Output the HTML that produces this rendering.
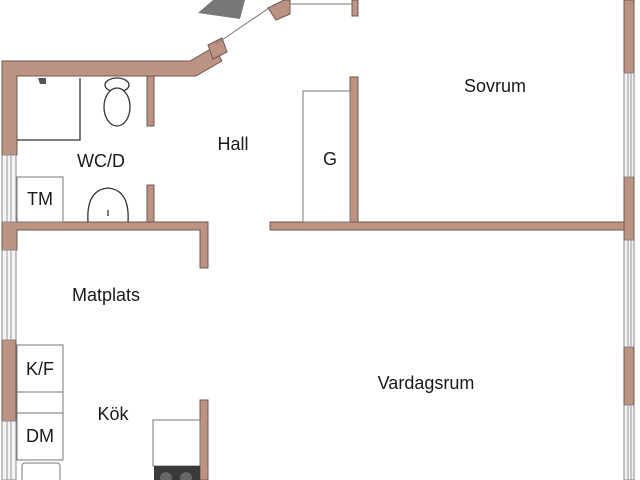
<!DOCTYPE html>
<html><head><style>html,body{margin:0;padding:0;background:#fff;}svg{display:block}</style></head>
<body>
<svg width="640" height="480" viewBox="0 0 640 480" xmlns="http://www.w3.org/2000/svg" font-family="Liberation Sans, sans-serif">
<defs>
<pattern id="win" width="12" height="20" patternUnits="userSpaceOnUse">
<rect width="12" height="20" fill="#f4f4f4"/>
</pattern>
</defs>
<g fill="#bc9282" stroke="#6e5850" stroke-width="1">
<!-- top wall with diagonal -->
<polygon points="2,61 190,61 214,47 222,61 196,76 17,76 17,155 2,155"/>
<polygon points="208,45 222,38 227,52 213,59"/>
<polygon points="268,8 284,0 290,0 290,14 276,20"/>
<rect x="352" y="0" width="6" height="16"/>
<!-- WC right walls -->
<rect x="147" y="76" width="7" height="50"/>
<rect x="147" y="185" width="7" height="37"/>
<!-- horizontal wall left -->
<polygon points="2,222 208,222 208,268 200,268 200,230 17,230 17,250 2,250"/>
<!-- left wall segments -->
<rect x="2" y="340" width="14" height="81"/>
<!-- kitchen stub -->
<rect x="200" y="400" width="8" height="80"/>
<!-- Sovrum left wall -->
<rect x="350" y="77" width="8" height="145"/>
<!-- horizontal wall right -->
<rect x="270" y="222" width="356" height="8"/>
<!-- right wall -->
<rect x="624" y="0" width="10" height="73"/>
<rect x="624" y="177" width="10" height="63"/>
<rect x="624" y="347" width="10" height="58"/>
</g>
<!-- windows -->
<g fill="#f4f4f4" stroke="#888" stroke-width="1">
<rect x="2" y="155" width="14" height="67"/>
<rect x="2" y="250" width="14" height="90"/>
<rect x="2" y="421" width="14" height="59"/>
<rect x="624" y="73" width="10" height="104"/>
<rect x="624" y="240" width="10" height="107"/>
<rect x="624" y="405" width="10" height="75"/>
</g>
<g stroke="#999" stroke-width="1">
<line x1="7" y1="155" x2="7" y2="222"/><line x1="11" y1="155" x2="11" y2="222"/>
<line x1="7" y1="250" x2="7" y2="340"/><line x1="11" y1="250" x2="11" y2="340"/>
<line x1="7" y1="421" x2="7" y2="480"/><line x1="11" y1="421" x2="11" y2="480"/>
<line x1="628" y1="73" x2="628" y2="177"/><line x1="631" y1="73" x2="631" y2="177"/>
<line x1="628" y1="240" x2="628" y2="347"/><line x1="631" y1="240" x2="631" y2="347"/>
<line x1="628" y1="405" x2="628" y2="480"/><line x1="631" y1="405" x2="631" y2="480"/>
</g>
<!-- door / thin lines -->
<g stroke="#777" stroke-width="1" fill="none">
<line x1="216" y1="44" x2="272" y2="6"/>
<line x1="290" y1="4" x2="352" y2="4"/>
<rect x="303" y="91" width="47" height="131"/>
<rect x="17" y="177" width="46" height="45"/>
<rect x="17" y="345" width="46" height="47"/>
<rect x="17" y="392" width="46" height="21"/>
<rect x="17" y="413" width="46" height="47"/>
<rect x="22" y="463" width="38" height="20" rx="3"/>
<rect x="153" y="420" width="47" height="46"/>
</g>
<g stroke="#333" stroke-width="1.3" fill="none">
<polyline points="80,78 80,140 17,140"/>
<ellipse cx="117" cy="85" rx="12" ry="7" fill="#fff"/>
<ellipse cx="117" cy="107" rx="13" ry="19" fill="#fff"/>
<path d="M88,222 Q86,190 108,188 Q130,190 128,222"/>
<line x1="108" y1="210" x2="108" y2="216"/>
</g>
<path d="M38,78 l8,0 0,6 -6,0 z" fill="#555"/>
<rect x="154" y="466" width="46" height="14" fill="#3a3a3a"/>
<circle cx="166" cy="478" r="6" fill="#666"/><circle cx="186" cy="478" r="6" fill="#666"/>
<polygon points="198,13 213,0 245,0 240,19" fill="#777"/>
<g fill="#1a1a1a" font-size="18">
<text x="495" y="92" text-anchor="middle">Sovrum</text>
<text x="233" y="150" text-anchor="middle">Hall</text>
<text x="330" y="165" text-anchor="middle">G</text>
<text x="101" y="167" text-anchor="middle">WC/D</text>
<text x="40" y="205" text-anchor="middle">TM</text>
<text x="106" y="301" text-anchor="middle">Matplats</text>
<text x="40" y="375" text-anchor="middle">K/F</text>
<text x="113" y="420" text-anchor="middle">Kök</text>
<text x="40" y="442" text-anchor="middle">DM</text>
<text x="426" y="389" text-anchor="middle">Vardagsrum</text>
</g>
</svg>
</body></html>
